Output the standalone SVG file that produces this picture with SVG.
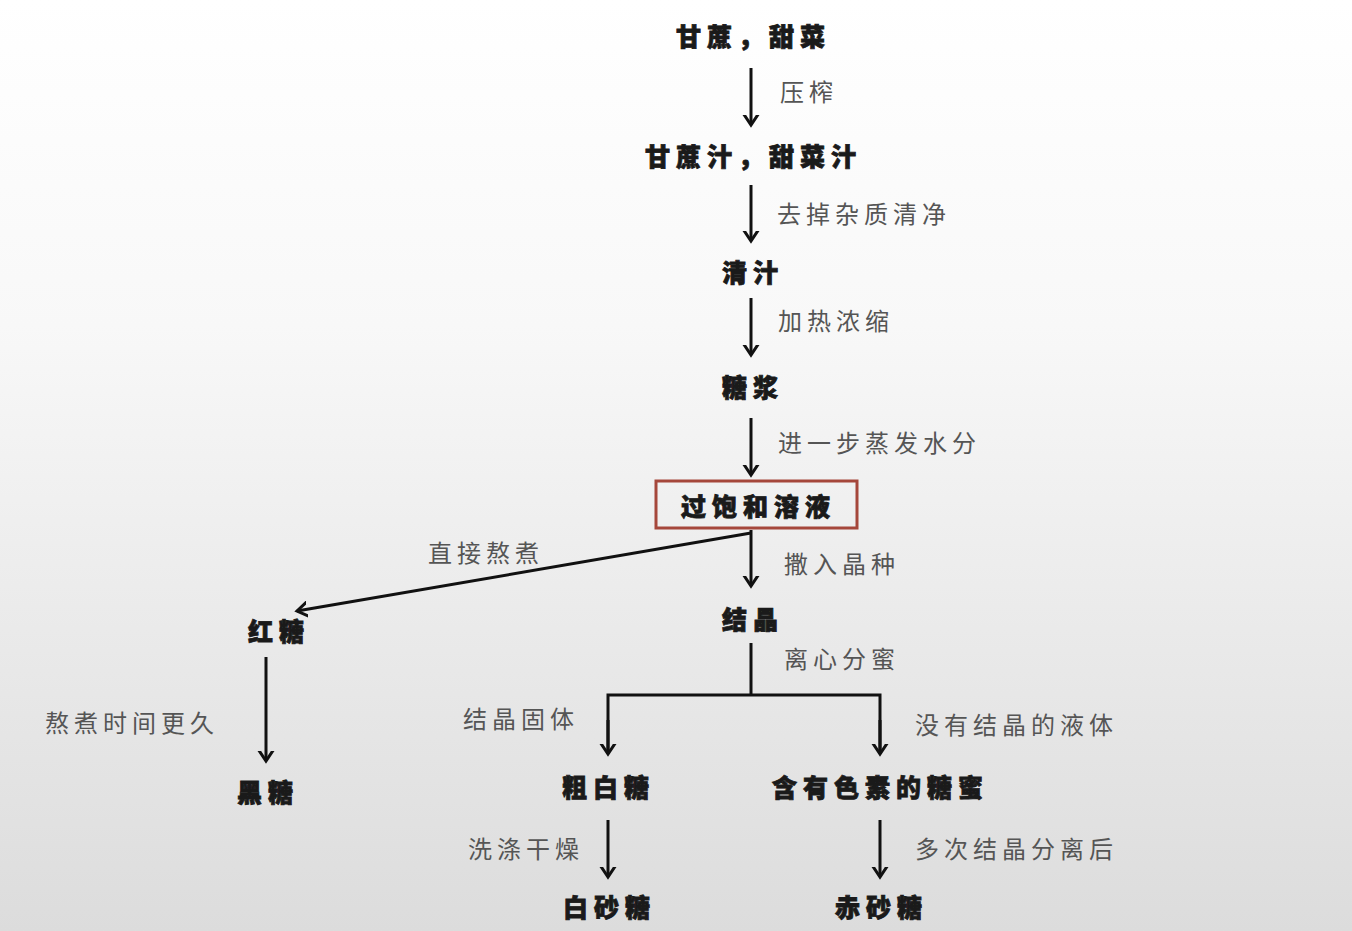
<svg xmlns="http://www.w3.org/2000/svg" width="1352" height="931" viewBox="0 0 1352 931">
<defs>
<linearGradient id="bg" x1="0" y1="0" x2="0" y2="1">
<stop offset="0" stop-color="#ffffff"/>
<stop offset="0.35" stop-color="#f8f8f8"/>
<stop offset="1" stop-color="#dcdcdc"/>
</linearGradient>
<marker id="ah" markerWidth="20" markerHeight="20" refX="10" refY="10" orient="auto" markerUnits="userSpaceOnUse" viewBox="0 0 20 20">
<path d="M-2,2 L10,10 L-2,18" fill="none" stroke="#111" stroke-width="3" stroke-linejoin="miter"/>
</marker>
<style>
.n{font-family:"Noto Sans CJK SC","Noto Sans",sans-serif;font-weight:900;font-size:25px;fill:#1a1a1a;stroke:#1a1a1a;stroke-width:0.8px;letter-spacing:6px}
.l{font-family:"Noto Sans CJK SC","Noto Sans",sans-serif;font-weight:400;font-size:24px;fill:#555;letter-spacing:5px}
.c{fill:none;stroke:#111;stroke-width:3}
</style>
</defs>
<rect width="1352" height="931" fill="url(#bg)"/>
<g id="connectors">
<line class="c" x1="751" y1="68" x2="751" y2="125" marker-end="url(#ah)"/>
<line class="c" x1="751" y1="185" x2="751" y2="241" marker-end="url(#ah)"/>
<line class="c" x1="751" y1="298" x2="751" y2="355" marker-end="url(#ah)"/>
<line class="c" x1="751" y1="418" x2="751" y2="475" marker-end="url(#ah)"/>
<line class="c" x1="751" y1="530" x2="751" y2="586" marker-end="url(#ah)"/>
<line class="c" x1="751" y1="533" x2="297" y2="611" marker-end="url(#ah)"/>
<line class="c" x1="266" y1="657" x2="266" y2="761" marker-end="url(#ah)"/>
<polyline class="c" points="751,643 751,695"/>
<polyline class="c" points="608,754 608,695 880,695 880,754"/>
<line class="c" x1="608" y1="720" x2="608" y2="754" marker-end="url(#ah)"/>
<line class="c" x1="880" y1="720" x2="880" y2="754" marker-end="url(#ah)"/>
<line class="c" x1="608" y1="820" x2="608" y2="877" marker-end="url(#ah)"/>
<line class="c" x1="880" y1="820" x2="880" y2="877" marker-end="url(#ah)"/>
<text class="l" x="780" y="101">压榨</text>
<text class="l" x="777" y="223">去掉杂质清净</text>
<text class="l" x="778" y="330">加热浓缩</text>
<text class="l" x="778" y="452">进一步蒸发水分</text>
<text class="l" x="784" y="573">撒入晶种</text>
<text class="l" x="428" y="562">直接熬煮</text>
<text class="l" x="45" y="732">熬煮时间更久</text>
<text class="l" x="784" y="668">离心分蜜</text>
<text class="l" x="463" y="728">结晶固体</text>
<text class="l" x="915" y="734">没有结晶的液体</text>
<text class="l" x="468" y="858">洗涤干燥</text>
<text class="l" x="915" y="858">多次结晶分离后</text>
</g>
<g id="n1"><text class="n" x="676" y="46">甘蔗，甜菜</text></g>
<g id="n2"><text class="n" x="645" y="166">甘蔗汁，甜菜汁</text></g>
<g id="n3"><text class="n" x="722" y="282">清汁</text></g>
<g id="n4"><text class="n" x="722" y="397">糖浆</text></g>
<g id="n5"><rect x="656" y="481" width="201" height="47" fill="none" stroke="#a5473b" stroke-width="3"/><text class="n" x="681" y="516">过饱和溶液</text></g>
<g id="n6"><text class="n" x="722" y="629">结晶</text></g>
<g id="n7"><text class="n" x="248" y="641">红糖</text></g>
<g id="n8"><text class="n" x="237" y="802">黑糖</text></g>
<g id="n9"><text class="n" x="562" y="797">粗白糖</text></g>
<g id="n10"><text class="n" x="772" y="797">含有色素的糖蜜</text></g>
<g id="n11"><text class="n" x="563" y="917">白砂糖</text></g>
<g id="n12"><text class="n" x="835" y="917">赤砂糖</text></g>
</svg>
